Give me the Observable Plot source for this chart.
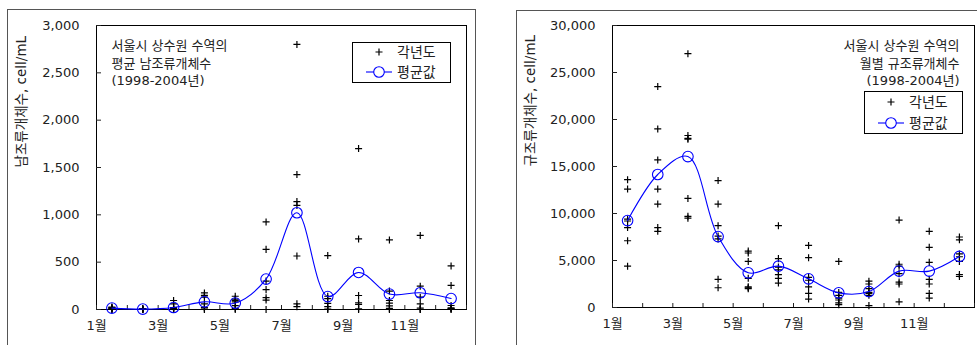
<!DOCTYPE html>
<html>
<head>
<meta charset="utf-8">
<script src="https://cdn.jsdelivr.net/npm/d3@7"></script>
<script src="https://cdn.jsdelivr.net/npm/@observablehq/plot@0.6"></script>
<style>
  body { margin: 0; background: #fff; }
  #wrap { position: relative; width: 977px; height: 345px; overflow: hidden; background: #fff;
          font-family: "DejaVu Sans", "Noto Sans CJK KR", sans-serif; }
  .outer { position: absolute; border: 1px solid #555; box-sizing: border-box; }
  .chart { position: absolute; top: 0; }
  .legend { position: absolute; }
</style>
</head>
<body>
<div id="wrap">
  <div class="outer" style="left:7px; top:9px; width:469px; height:360px;"></div>
  <div class="outer" style="left:516px; top:10px; width:470px; height:360px;"></div>
</div>
<script>
// ---- data ----
const months = [1, 2, 3, 4, 5, 6, 7, 8, 9, 10, 11, 12];
const monthTicks = [1, 3, 5, 7, 9, 11];

// 남조류 (cyanobacteria), each year's value per month (7 years: 1998-2004)
const cyanoYearly = [
  [25, 20, 15, 10, 5, 0, 0],
  [10, 8, 5, 3, 0, 0, 0],
  [95, 60, 20, 10, 5, 0, 0],
  [175, 150, 130, 60, 20, 5, 0],
  [140, 110, 95, 80, 40, 10, 0],
  [925, 635, 300, 210, 125, 100, 0],
  [2800, 1425, 1140, 1100, 565, 60, 30],
  [570, 140, 115, 65, 30, 5, 0],
  [1700, 745, 148, 70, 53, 7, 0],
  [735, 195, 95, 67, 39, 11, 0],
  [782, 246, 130, 60, 14, 0, 0],
  [460, 254, 42, 18, 10, 5, 0]
];
const cyanoMean = [15, 4, 21, 81, 68, 321, 1022, 137, 391, 163, 177, 116];
const cyanoTicks = [0, 500, 1000, 1500, 2000, 2500, 3000];

// 규조류 (diatoms)
const diatomYearly = [
  [13600, 12600, 9400, 9200, 8500, 7100, 4400],
  [23500, 19000, 15700, 12600, 11000, 8500, 8100],
  [27000, 18300, 18000, 17900, 11600, 9700, 9500],
  [13500, 11000, 8700, 7600, 7300, 3000, 2100],
  [6000, 5800, 4900, 3100, 2200, 2100, 2000],
  [8700, 5200, 4300, 4000, 3500, 3100, 2600],
  [6600, 5300, 3200, 2900, 2200, 1500, 900],
  [4900, 1600, 1300, 1000, 800, 500, 300],
  [2800, 2500, 2000, 1600, 1500, 1300, 200],
  [9300, 4600, 4400, 3600, 2700, 2500, 600],
  [8100, 6400, 4800, 3000, 2500, 1500, 1000],
  [7500, 7200, 5700, 5400, 4900, 3500, 3300]
];
const diatomMean = [9250, 14150, 16060, 7550, 3690, 4400, 3050, 1560, 1700, 3870, 3870, 5430];
const diatomTicks = [0, 5000, 10000, 15000, 20000, 25000, 30000];

const legendLabels = ["각년도", "평균값"];
const cyanoNote = "서울시 상수원 수역의\n평균 남조류개체수\n(1998-2004년)";
const diatomNote = "서울시 상수원 수역의\n월별 규조류개체수\n(1998-2004년)";
const cyanoYLabel = "남조류개체수, cell/mL";
const diatomYLabel = "규조류개체수, cell/mL";

const FONT = '"DejaVu Sans", "Noto Sans CJK KR", sans-serif';
const BLUE = "#0000ff";
const INK = "#222";

function panel({yearly, mean, ticks, yLabel, note, noteRight, width, marginLeft, marginRight, marginBottom, labelDx}) {
  const pts = yearly.flatMap((vals, i) => vals.map(v => ({m: months[i] + 0.5, v})));
  const avg = mean.map((v, i) => ({m: months[i] + 0.5, v}));
  return Plot.plot({
    width, height: 345,
    marginTop: 25, marginBottom, marginLeft, marginRight,
    style: {fontFamily: FONT, fontSize: "13px", color: INK, background: "transparent", overflow: "visible"},
    x: {domain: [1, 13]},
    y: {domain: [0, ticks[ticks.length - 1]]},
    marks: [
      Plot.frame({stroke: "#000"}),
      Plot.axisY({ticks, tickSize: -5, tickFormat: () => "", label: null}),
      Plot.axisY({ticks, tickSize: 0, tickPadding: 17, tickFormat: d3.format(","), label: null, fontSize: 13}),
      Plot.axisX({ticks: d3.range(1, 14), tickSize: -4, tickFormat: () => "", label: null}),
      Plot.axisX({ticks: monthTicks, tickSize: 0, tickPadding: 11, tickFormat: d => `${d}월`, label: null, fontSize: 13}),
      Plot.text([yLabel], {text: d => d, frameAnchor: "left", rotate: -90, dx: labelDx, fontSize: 13.5, fill: INK}),
      Plot.text([note], {text: d => d, frameAnchor: noteRight ? "top-right" : "top-left",
        textAnchor: noteRight ? "end" : "start", lineAnchor: "top", dx: noteRight ? -15 : 15, dy: 12,
        lineHeight: 1.35, fontSize: 13, fill: INK}),
      Plot.dot(pts, {x: "m", y: "v", symbol: "plus", r: 2.4, stroke: "#000", strokeWidth: 1.2}),
      Plot.line(avg, {x: "m", y: "v", curve: "catmull-rom", stroke: BLUE, strokeWidth: 1.1}),
      Plot.dot(avg, {x: "m", y: "v", r: 5.3, stroke: BLUE, fill: "none", strokeWidth: 1.1})
    ]
  });
}

function legend(left, top, w, h, yA, yB) {
  const div = document.createElement("div");
  div.className = "legend";
  div.style.left = left + "px";
  div.style.top = top + "px";
  div.innerHTML = `<svg width="${w}" height="${h}" style="display:block;font-family:${FONT.replace(/"/g, "'")}">
    <rect x="0.5" y="0.5" width="${w - 1}" height="${h - 1}" fill="#fff" stroke="#000"/>
    <path d="M23.5,${yA}h7M27,${yA - 3.5}v7" stroke="#000" stroke-width="1.2"/>
    <text x="45" y="${yA}" dy="0.35em" font-size="14" fill="${INK}">${legendLabels[0]}</text>
    <line x1="14" x2="40" y1="${yB}" y2="${yB}" stroke="${BLUE}" stroke-width="1.1"/>
    <circle cx="27" cy="${yB}" r="5.3" fill="#fff" stroke="${BLUE}" stroke-width="1.1"/>
    <text x="45" y="${yB}" dy="0.35em" font-size="14" fill="${INK}">${legendLabels[1]}</text>
  </svg>`;
  return div;
}

const wrap = document.getElementById("wrap");

const left = panel({yearly: cyanoYearly, mean: cyanoMean, ticks: cyanoTicks, yLabel: cyanoYLabel,
  note: cyanoNote, noteRight: false, width: 487, marginLeft: 96, marginRight: 21, marginBottom: 36, labelDx: -75});
left.classList.add("chart");
left.style.left = "0px";
wrap.appendChild(left);

const right = panel({yearly: diatomYearly, mean: diatomMean, ticks: diatomTicks, yLabel: diatomYLabel,
  note: diatomNote, noteRight: true, width: 490, marginLeft: 125, marginRight: 3, marginBottom: 38, labelDx: -82});
right.classList.add("chart");
right.style.left = "487px";
wrap.appendChild(right);

wrap.appendChild(legend(352, 42, 99, 41, 10, 30));
wrap.appendChild(legend(864, 91, 99, 43, 11, 32));
</script>
</body>
</html>
